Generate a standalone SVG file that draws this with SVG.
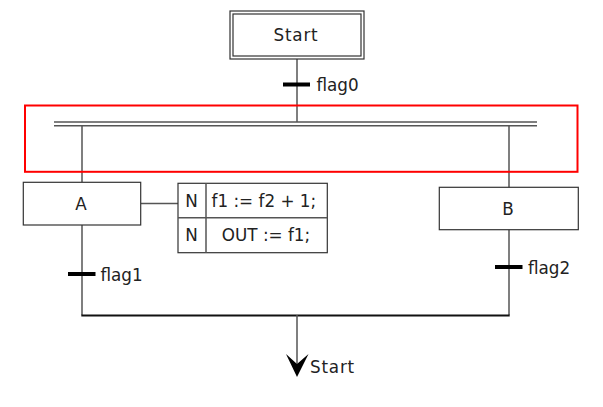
<svg xmlns="http://www.w3.org/2000/svg" width="603" height="407" viewBox="0 0 603 407">
<style>
text{font-family:"DejaVu Sans",sans-serif;font-size:16.8px;fill:#222}
.box{fill:#fff;stroke:#333;stroke-width:1.2}
.ln{stroke:#555;stroke-width:1.5;fill:none}
.bar{stroke:#000;stroke-width:4}
</style>
<rect width="603" height="407" fill="#fff"/>
<g id="connectors">
<line class="ln" x1="297" y1="59" x2="297" y2="122"/>
<line class="bar" x1="283" y1="84.5" x2="310" y2="84.5"/>
<line class="ln" x1="54" y1="122" x2="537" y2="122"/>
<line class="ln" x1="54" y1="125.7" x2="537" y2="125.7"/>
<line class="ln" x1="82" y1="125.7" x2="82" y2="182"/>
<line class="ln" x1="509" y1="125.7" x2="509" y2="187.5"/>
<line class="ln" x1="82" y1="225" x2="82" y2="315"/>
<line class="bar" x1="68" y1="274" x2="95.5" y2="274"/>
<line class="ln" x1="509" y1="229.7" x2="509" y2="315"/>
<line class="bar" x1="495" y1="267" x2="522.5" y2="267"/>
<line x1="81.3" y1="315.5" x2="509.7" y2="315.5" stroke="#111" stroke-width="2"/>
<line class="ln" x1="297" y1="315" x2="297" y2="364" stroke="#222"/>
<polygon points="286,354 297,364 308.5,354 297,377" fill="#000"/>
<line class="ln" x1="141" y1="203.5" x2="178" y2="203.5"/>
</g>
<g id="start">
<rect class="box" x="230" y="11" width="134" height="48"/>
<rect class="box" x="233" y="14" width="128" height="42" fill="none"/>
<text x="296" y="41" text-anchor="middle" letter-spacing="0.8">Start</text>
</g>
<g id="t0"><text x="316.5" y="90.5">flag0</text></g>
<g id="parallel">
<rect x="25" y="105.5" width="552.5" height="66.3" fill="none" stroke="#f00" stroke-width="2"/>
</g>
<g id="A">
<rect class="box" x="23.3" y="182.3" width="117.4" height="42.7"/>
<text x="81" y="209.5" text-anchor="middle">A</text>
</g>
<g id="actions">
<rect class="box" x="178" y="183.3" width="149.3" height="69.4"/>
<line class="ln" x1="178" y1="217.8" x2="327.3" y2="217.8" stroke="#333" stroke-width="1.2"/>
<line class="ln" x1="206" y1="183.3" x2="206" y2="252.7" stroke="#333" stroke-width="1.2"/>
<text x="191.5" y="206.5" text-anchor="middle">N</text>
<text x="191.5" y="241" text-anchor="middle">N</text>
<text x="211.5" y="206.5">f1 := f2 + 1;</text>
<text x="266" y="241" text-anchor="middle">OUT := f1;</text>
</g>
<g id="t1"><text x="100.5" y="280.5">flag1</text></g>
<g id="B">
<rect class="box" x="439.3" y="187.3" width="139" height="42.4"/>
<text x="508" y="214.5" text-anchor="middle">B</text>
</g>
<g id="t2"><text x="528" y="273.5">flag2</text></g>
<g id="end"><text x="310" y="372.5" letter-spacing="0.8">Start</text></g>
</svg>
